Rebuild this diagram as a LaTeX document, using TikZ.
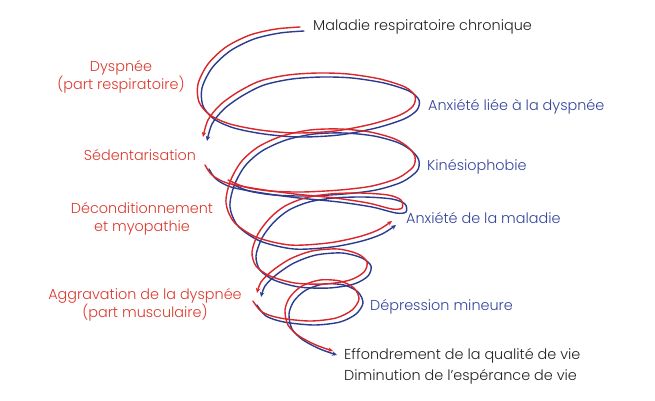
\documentclass[tikz,border=0pt]{standalone}
\usepackage{fontspec}
\setmainfont{Poppins Light}
\usetikzlibrary{arrows.meta}
\definecolor{sred}{HTML}{D8262A}
\definecolor{sblue}{HTML}{2B3C8E}
\definecolor{tred}{HTML}{DC3A2E}
\definecolor{tblue}{HTML}{33449A}
\definecolor{tdark}{HTML}{222222}
\tikzset{
  strand/.style={line width=1.4pt, line cap=round, line join=round},
  tip/.style={-{Stealth[length=5pt,width=4.5pt]}},
  lab/.style={font=\fontsize{14.4}{17.5}\selectfont, inner sep=0pt, align=center},
  redlab/.style={lab, text=tred},
  bluelab/.style={lab, text=tblue, anchor=west},
  darklab/.style={lab, text=tdark, anchor=west, align=left}
}
\begin{document}
\begin{tikzpicture}[x=1pt,y=-1pt]
\fill[white] (0,0) rectangle (655,400);
\useasboundingbox (0,0) rectangle (655,400);
\foreach \c/\d in {sblue/4, sred/0}{
\begin{scope}[shift={(\d,\d)}, every path/.style={strand, draw=\c}]
% stroke A: top arc, first loop, arrow to the left
\draw[tip] plot[smooth] coordinates {(300,27) (276,29) (250,35) (226,47) (208,64) (198,84) (199,102) (210,115) (230,124) (260,130) (295,133) (335,131) (372,124) (400,115) (413,106) (415,96) (405,87) (380,79) (348,74) (318,73) (288,75) (260,81) (238,92) (220,105) (208,120) (203,137)};
% stroke C: loop to Kinesiophobie, arrow to the right
\draw[tip] plot[smooth] coordinates {(228,180) (245,187) (270,191) (302,192) (340,190) (372,186) (398,178) (413,167) (415,157) (409,148) (395,139) (370,132) (340,129) (310,130) (282,136) (258,147) (241,162) (230,182) (226,203) (234,222) (256,237) (290,245) (328,243) (358,237) (378,230) (392,221)};
% stroke B: from Sedentarisation, two loops, arrow to the left
\draw[tip] plot[smooth] coordinates {(205,165) (212,175) (227,183) (258,189) (295,194) (335,198) (368,203) (392,209) (402,208) (401,200) (388,195) (360,193) (330,194) (305,198) (285,206) (270,218) (258,234) (252,252) (256,266) (270,276) (295,283) (325,284) (350,280) (364,272) (367,262) (358,254) (338,249) (312,251) (290,259) (272,271) (261,282) (257,293)};
% stroke D: last loop to the end
\draw[tip] plot[smooth] coordinates {(253,301) (262,312) (280,318) (310,321) (336,318) (352,310) (359,299) (354,288) (340,281) (320,280) (302,286) (290,297) (285,310) (288,325) (299,336) (316,345) (333,351)};
\end{scope}
}
\node[darklab] (mal) at (313,27) {Maladie respiratoire chronique};
\node[redlab] (dys) at (121,77) {Dyspnée\\(part respiratoire)};
\node[redlab] (sed) at (140,155) {Sédentarisation};
\node[redlab] (dec) at (142,219) {Déconditionnement\\et myopathie};
\node[redlab] (agg) at (145,305) {Aggravation de la dyspnée\\(part musculaire)};
\node[bluelab] (anx1) at (428,107) {Anxiété liée à la dyspnée};
\node[bluelab] (kin) at (427,167) {Kinésiophobie};
\node[bluelab] (anx2) at (406,218) {Anxiété de la maladie};
\node[bluelab] (dep) at (370,307) {Dépression mineure};
\node[darklab, font=\fontsize{14.4}{21}\selectfont] (eff) at (344,366) {Effondrement de la qualité de vie\\Diminution de l’espérance de vie};
\end{tikzpicture}
\end{document}
